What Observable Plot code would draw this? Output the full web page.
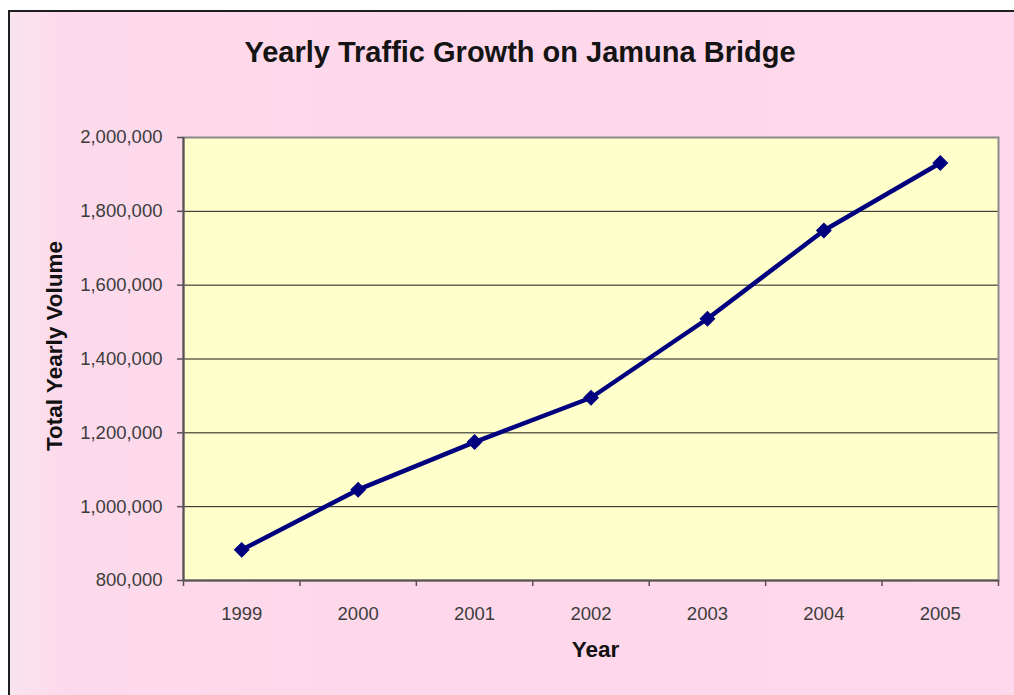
<!DOCTYPE html>
<html>
<head>
<meta charset="utf-8">
<script src="https://cdn.jsdelivr.net/npm/d3@7"></script>
<script src="https://cdn.jsdelivr.net/npm/@observablehq/plot@0.6"></script>
<style>
  html, body { margin: 0; padding: 0; background: #ffffff; }
  #page { position: relative; width: 1014px; height: 695px; overflow: hidden; font-family: "Liberation Sans", Arial, sans-serif; }
  #panel { position: absolute; left: 8px; top: 10px; width: 1010px; height: 690px;
    border-left: 2px solid #1e1e1e; border-top: 2px solid #1e1e1e;
    background: linear-gradient(to right, #f9e4ee 0%, #fddaeb 5%, #fed8ea 40%, #fed9eb 100%); }
  #title { position: absolute; left: 220px; width: 600px; top: 38px; line-height: 28px;
    text-align: center; font-size: 29px; font-weight: bold; color: #141414; }
  #chart { position: absolute; left: 0; top: 0; }
</style>
</head>
<body>
<div id="page">
  <div id="panel"></div>
  <div id="title">Yearly Traffic Growth on Jamuna Bridge</div>
  <div id="chart"></div>
</div>
<script>
const years = [1999, 2000, 2001, 2002, 2003, 2004, 2005];
const volumes = [883000, 1046000, 1175000, 1295000, 1509000, 1748000, 1931000];
const yTicks = [800000, 1000000, 1200000, 1400000, 1600000, 1800000, 2000000];
const xLabel = "Year";
const yLabel = "Total Yearly Volume";

const data = years.map((year, i) => ({year, volume: volumes[i]}));
const bounds = years.map(y => y - 0.5).concat([years[years.length - 1] + 0.5]);
const xDomain = [bounds[0], bounds[bounds.length - 1]];
const yDomain = [yTicks[0], yTicks[yTicks.length - 1]];

const chart = Plot.plot({
  width: 1014,
  height: 695,
  marginLeft: 183,
  marginRight: 16,
  marginTop: 137,
  marginBottom: 115,
  style: {background: "transparent", fontFamily: "'Liberation Sans', Arial, sans-serif", overflow: "visible"},
  x: {domain: xDomain},
  y: {domain: yDomain},
  marks: [
    Plot.frame({fill: "#ffffcc", stroke: null}),
    Plot.ruleY(yTicks.slice(1, -1), {stroke: "#1a1a1a", strokeWidth: 1}),
    Plot.frame({stroke: "#8a8a8a", strokeWidth: 2, fill: null}),
    Plot.ruleX([xDomain[0]], {stroke: "#5a5252", strokeWidth: 2}),
    Plot.ruleY([yDomain[0]], {stroke: "#5a5252", strokeWidth: 2}),
    Plot.axisY({ticks: yTicks, tickSize: 6, tickPadding: 15, tickFormat: d3.format(","), fontSize: 18.5, fill: "#3c3c3c", stroke: "#5a5252", strokeWidth: 1.5, label: null}),
    Plot.axisX({ticks: years, tickSize: 0, tickPadding: 26, tickFormat: d => String(d), fontSize: 18.5, fill: "#3c3c3c", label: null}),
    Plot.axisX({ticks: bounds, tickSize: 6, tickFormat: () => "", stroke: "#5a5252", strokeWidth: 1.5, label: null}),
    Plot.line(data, {x: "year", y: "volume", stroke: "#00007e", strokeWidth: 4.5, strokeLinejoin: "round"}),
    Plot.dot(data, {x: "year", y: "volume", symbol: "square", r: 5.8, rotate: 45, fill: "#00007e", stroke: "#00007e", strokeWidth: 1}),
    Plot.text([yLabel], {frameAnchor: "left", textAnchor: "middle", lineAnchor: "middle", rotate: -90, dx: -129, dy: -13, fontSize: 22.5, fontWeight: "bold", fill: "#111"}),
    Plot.text([xLabel], {frameAnchor: "bottom", textAnchor: "middle", lineAnchor: "middle", dx: 4.5, dy: 69, fontSize: 22.5, fontWeight: "bold", fill: "#111"})
  ]
});
document.getElementById("chart").appendChild(chart);
</script>
</body>
</html>
